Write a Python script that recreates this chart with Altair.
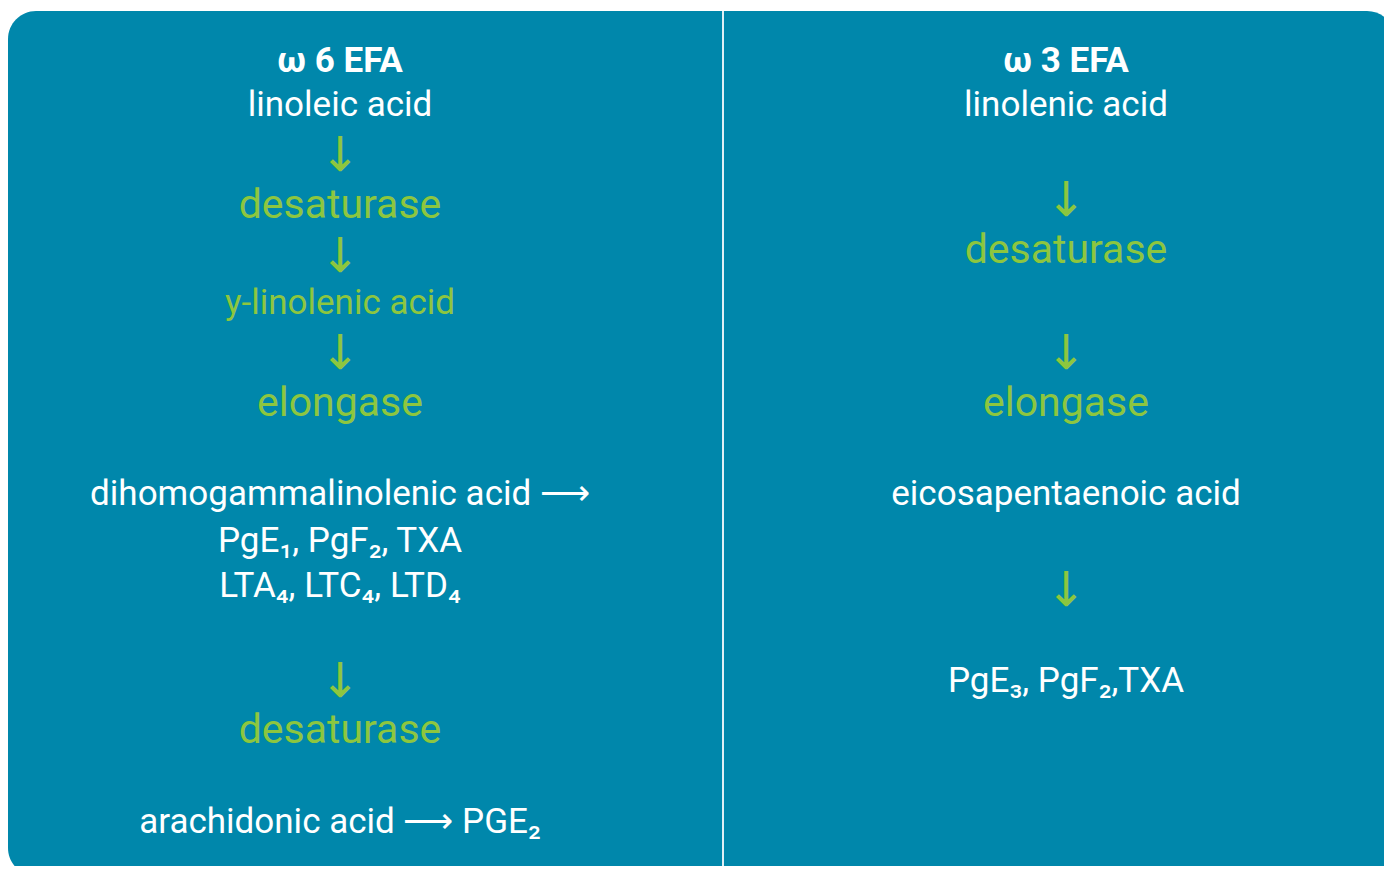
import altair as alt
import pandas as pd

# ---- content ----
columns = ["omega6", "omega3"]

title_text = ["ω 6 EFA", "ω 3 EFA"]
title_col = ["omega6", "omega3"]
title_row = [72, 72]

body_text = [
    "linoleic acid",
    "dihomogammalinolenic acid ⟶",
    "PgE₁, PgF₂, TXA",
    "LTA₄, LTC₄, LTD₄",
    "arachidonic acid ⟶ PGE₂",
    "linolenic acid",
    "eicosapentaenoic acid",
    "PgE₃, PgF₂,TXA",
]
body_col = ["omega6", "omega6", "omega6", "omega6", "omega6", "omega3", "omega3", "omega3"]
body_row = [116, 505, 552, 597, 833, 116, 505, 692]

enzyme_text = ["desaturase", "elongase", "desaturase", "desaturase", "elongase"]
enzyme_col = ["omega6", "omega6", "omega6", "omega3", "omega3"]
enzyme_row = [218, 416, 743, 263, 416]

inter_text = ["y-linolenic acid"]
inter_col = ["omega6"]
inter_row = [314]

arrow_col = ["omega6", "omega6", "omega6", "omega6", "omega3", "omega3", "omega3"]
arrow_row = [157, 258, 355, 683, 202, 355, 592]

# ---- layout / style ----
W, H = 1376, 858
OFF = 8  # page margin
TEAL = "#0087AB"
GREEN = "#8DC63F"
FONT = "Roboto"

def frame(texts, cols, rows):
    return pd.DataFrame({"label": texts, "col": cols, "row": [r - OFF for r in rows]})

xs = alt.Scale(domain=columns, range=[332, 1058], padding=0)
ys = alt.Scale(domain=[0, H], reverse=True)

def text_layer(df, color, size, weight="normal", baseline="alphabetic", font=FONT):
    return alt.Chart(df).mark_text(
        color=color, fontSize=size, fontWeight=weight, baseline=baseline,
        align="center", font=font
    ).encode(
        x=alt.X("col:N", scale=xs, axis=None),
        y=alt.Y("row:Q", scale=ys, axis=None),
        text="label:N",
    )

bg = alt.Chart(pd.DataFrame({"k": [0]})).mark_rect(
    color=TEAL, cornerRadius=28
).encode(x=alt.value(0), x2=alt.value(1387), y=alt.value(3), y2=alt.value(868))

divider = alt.Chart(pd.DataFrame({"k": [0]})).mark_rule(
    color="#dfeff5", strokeWidth=2
).encode(x=alt.value(715), y=alt.value(3), y2=alt.value(868))

titles = text_layer(frame(title_text, title_col, title_row), "white", 35, "bold")
bodies = text_layer(frame(body_text, body_col, body_row), "white", 35)
enzymes = text_layer(frame(enzyme_text, enzyme_col, enzyme_row), GREEN, 41)
inters = text_layer(frame(inter_text, inter_col, inter_row), GREEN, 35)
arrows = text_layer(frame(["↓"] * len(arrow_row), arrow_col, arrow_row), GREEN, 48,
                    baseline="middle", font="DejaVu Sans")

chart = alt.layer(bg, divider, titles, bodies, enzymes, inters, arrows).properties(
    width=W, height=H, padding=0, autosize=alt.AutoSizeParams(type="none"),
    background="white",
).configure_view(stroke=None)

chart.save("out.html", embed_options={"renderer": "svg", "actions": False})
